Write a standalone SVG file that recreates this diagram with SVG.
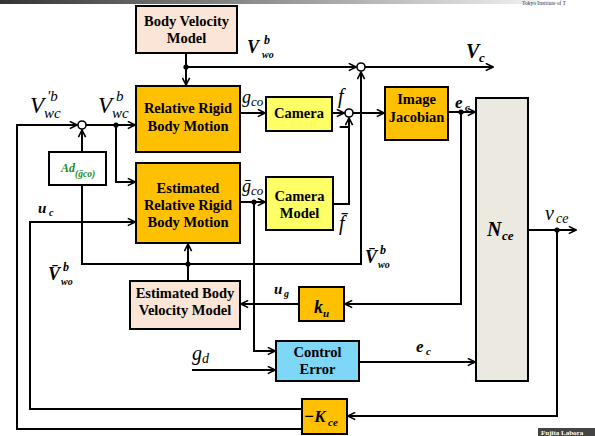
<svg xmlns="http://www.w3.org/2000/svg" width="595" height="436" viewBox="0 0 595 436">
<defs>
<linearGradient id="bar" x1="0" y1="0" x2="1" y2="0">
<stop offset="0" stop-color="#333"/>
<stop offset="1" stop-color="#f2f2f2"/>
</linearGradient>
<marker id="ah" viewBox="0 0 10 10" refX="9" refY="5" markerWidth="9" markerHeight="9" markerUnits="userSpaceOnUse" orient="auto">
<path d="M1,1 L9,5 L1,9" fill="none" stroke="#000" stroke-width="1.8"/>
</marker>
</defs>
<style>
.box{stroke:#000;stroke-width:2}
.or{fill:#FFC000}.pe{fill:#FBE5D6}.ye{fill:#FFFF66}.cy{fill:#7FD7F7}.be{fill:#ECE9E0}.wh{fill:#fff}
.bl{font-family:"Liberation Serif",serif;font-weight:bold;font-size:14.5px;text-anchor:middle;fill:#000}
.mi{font-family:"Liberation Serif",serif;font-style:italic;fill:#000}
.mb{font-family:"Liberation Serif",serif;font-style:italic;font-weight:bold;fill:#000}
.ln{fill:none;stroke:#000;stroke-width:2}
.ar{marker-end:url(#ah)}
.sj{fill:#fff;stroke:#000;stroke-width:1.6}
</style>
<rect width="595" height="436" fill="#fff"/>
<rect x="0" y="0" width="540" height="4" fill="url(#bar)"/>
<text x="522" y="5" font-family="Liberation Serif,serif" font-size="5.5" fill="#333">Tokyo Institute of T</text>
<rect x="538" y="428" width="57" height="8" fill="#444"/>
<text x="541" y="435" font-family="Liberation Serif,serif" font-weight="bold" font-size="7" fill="#fff">Fujita Labora</text>

<g id="connectors">
<path class="ln ar" d="M186,53 V85"/>
<path class="ln ar" d="M186,67 H356"/>
<path class="ln ar" d="M365,67 H493"/>
<path class="ln ar" d="M302,429 H17 V125 H77"/>
<path class="ln ar" d="M86,125 H135"/>
<path class="ln ar" d="M116,125 V182 H135"/>
<path class="ln ar" d="M82,152 V130"/>
<path class="ln ar" d="M82,185 V264 H361 V72"/>
<path class="ln ar" d="M188,281 V244"/>
<path class="ln ar" d="M240,113 H265"/>
<path class="ln ar" d="M332,113 H344"/>
<path class="ln ar" d="M353,113 H384"/>
<path class="ln ar" d="M333,204 H349 V118"/>
<path class="ln ar" d="M240,202 H265"/>
<path class="ln ar" d="M254,202 V351 H275"/>
<path class="ln ar" d="M192,370 H275"/>
<path class="ln ar" d="M359,362 H475"/>
<path class="ln ar" d="M448,112 H475"/>
<path class="ln ar" d="M461,112 V304 H345"/>
<path class="ln ar" d="M299,304 H241"/>
<path class="ln ar" d="M528,230 H576"/>
<path class="ln ar" d="M557,230 V416 H348"/>
<path class="ln ar" d="M302,409 H30 V222 H135"/>
<circle cx="186" cy="67" r="2.6"/>
<circle cx="116" cy="125" r="2.6"/>
<circle cx="188" cy="264" r="2.6"/>
<circle cx="254" cy="202" r="2.6"/>
<circle cx="461" cy="112" r="2.6"/>
<circle cx="557" cy="230" r="2.6"/>
<circle class="sj" cx="361" cy="67" r="4"/>
<circle class="sj" cx="349" cy="113" r="4"/>
<circle class="sj" cx="82" cy="125" r="4"/>
</g>

<g id="body-velocity-model">
<rect class="box pe" x="136" y="6" width="101" height="47"/>
<text class="bl" x="186.5" y="26">Body Velocity</text>
<text class="bl" x="186.5" y="43">Model</text>
</g>
<g id="relative-rigid-body-motion">
<rect class="box or" x="136" y="86" width="104" height="66"/>
<text class="bl" x="188" y="113">Relative Rigid</text>
<text class="bl" x="188" y="131">Body Motion</text>
</g>
<g id="estimated-relative-rigid-body-motion">
<rect class="box or" x="136" y="163" width="104" height="80"/>
<text class="bl" x="188" y="193">Estimated</text>
<text class="bl" x="188" y="210">Relative Rigid</text>
<text class="bl" x="188" y="227">Body Motion</text>
</g>
<g id="camera">
<rect class="box ye" x="266" y="97" width="66" height="34"/>
<text class="bl" x="299" y="118">Camera</text>
</g>
<g id="camera-model">
<rect class="box ye" x="266" y="177" width="67" height="53"/>
<text class="bl" x="299.5" y="201">Camera</text>
<text class="bl" x="299.5" y="218">Model</text>
</g>
<g id="image-jacobian">
<rect class="box or" x="385" y="87" width="63" height="53"/>
<text class="bl" x="416.5" y="104">Image</text>
<text class="bl" x="416.5" y="122">Jacobian</text>
</g>
<g id="n-ce">
<rect class="box be" x="476" y="98" width="52" height="283"/>
<text class="mb" x="487" y="236" font-size="20">N</text>
<text class="mb" x="502" y="240" font-size="13">ce</text>
</g>
<g id="ad">
<rect class="box wh" x="49" y="152" width="57" height="33"/>
<text class="mb" x="61" y="172" font-size="12" style="fill:#1a8a1a">Ad</text>
<text class="mb" x="75" y="177" font-size="9.5" style="fill:#1a8a1a">(ḡco)</text>
</g>
<g id="estimated-body-velocity-model">
<rect class="box pe" x="130" y="281" width="110" height="48"/>
<text class="bl" x="185" y="298">Estimated Body</text>
<text class="bl" x="185" y="315">Velocity Model</text>
</g>
<g id="k-u">
<rect class="box or" x="299" y="287" width="45" height="34"/>
<text class="mb" x="314" y="313" font-size="18">k</text>
<text class="mb" x="323" y="317" font-size="11">u</text>
</g>
<g id="control-error">
<rect class="box cy" x="276" y="341" width="83" height="40"/>
<text class="bl" x="317.5" y="357">Control</text>
<text class="bl" x="317.5" y="374">Error</text>
</g>
<g id="k-ce">
<rect class="box or" x="302" y="399" width="45" height="35"/>
<text class="mb" x="304" y="422" font-size="17">−K</text>
<text class="mb" x="328" y="426" font-size="11">ce</text>
</g>

<g id="labels">
<text class="mi" x="30" y="113" font-size="23">V</text>
<text class="mi" x="47" y="101" font-size="15">′b</text>
<text class="mi" x="44" y="118" font-size="15">wc</text>
<text class="mi" x="98" y="113" font-size="23">V</text>
<text class="mi" x="116" y="101" font-size="15">b</text>
<text class="mi" x="112" y="118" font-size="15">wc</text>
<text class="mb" x="247" y="53" font-size="18">V</text>
<text class="mb" x="264" y="44" font-size="12">b</text>
<text class="mb" x="262" y="58" font-size="10">wo</text>
<text class="mb" x="466" y="58" font-size="20">V</text>
<text class="mb" x="479" y="62" font-size="13">c</text>
<text class="mi" x="242" y="103" font-size="18">g</text>
<text class="mi" x="251" y="106" font-size="13">co</text>
<text class="mi" x="242" y="192" font-size="18">ḡ</text>
<text class="mi" x="251" y="195" font-size="13">co</text>
<text class="mi" x="338" y="103" font-size="20">f</text>
<text class="mi" x="339" y="230" font-size="20">f̄</text>
<text x="344" y="133" font-family="Liberation Sans,sans-serif" font-size="18" font-weight="bold" text-anchor="middle">−</text>
<text class="mb" x="455" y="108" font-size="17">e</text>
<text class="mb" x="465" y="111" font-size="11">c</text>
<text class="mb" x="416" y="352" font-size="17">e</text>
<text class="mb" x="426" y="355" font-size="11">c</text>
<text class="mi" x="545" y="220" font-size="20">ν</text>
<text class="mi" x="556" y="223" font-size="14">ce</text>
<text class="mb" x="274" y="294" font-size="15">u</text>
<text class="mb" x="284" y="297" font-size="10">g</text>
<text class="mb" x="38" y="213" font-size="15">u</text>
<text class="mb" x="49" y="216" font-size="10">c</text>
<text class="mb" x="365" y="263" font-size="18">V̄</text>
<text class="mb" x="380" y="254" font-size="12">b</text>
<text class="mb" x="378" y="268" font-size="10">wo</text>
<text class="mb" x="48" y="280" font-size="18">V̄</text>
<text class="mb" x="63" y="271" font-size="12">b</text>
<text class="mb" x="61" y="285" font-size="10">wo</text>
<text class="mi" x="192" y="360" font-size="20">g</text>
<text class="mi" x="202" y="363" font-size="14">d</text>
</g>
</svg>
